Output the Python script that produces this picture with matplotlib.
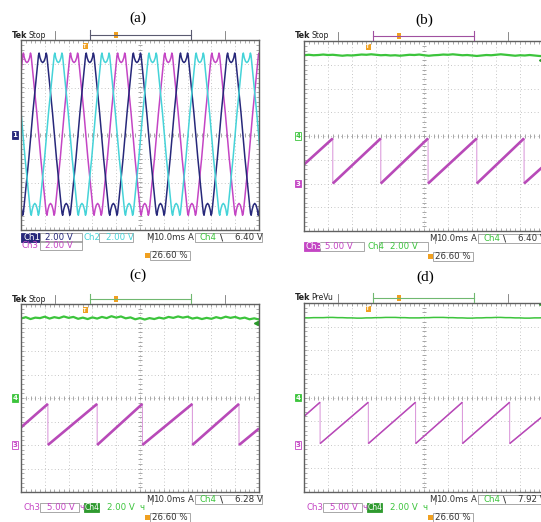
import numpy as np
import matplotlib.pyplot as plt
from matplotlib.lines import Line2D
from matplotlib.patches import Rectangle
from matplotlib.transforms import blended_transform_factory

# screen is 10 x 8 divisions, values below are in divisions
W, H = 541, 522

# (a) three phase voltages, one cycle (deg, div)
cyc_deg = [0, 15, 30, 42, 52, 58, 63, 70, 80, 90, 100, 110, 117, 122, 128, 138, 150, 165,
           180, 195, 210, 222, 232, 238, 243, 250, 260, 270, 280, 290, 297, 302, 308, 318,
           330, 345]
cyc_val = [0.0, 0.95, 1.8, 2.45, 3.0, 3.35, 3.45, 3.25, 3.1, 3.05, 3.1, 3.25, 3.45, 3.35,
           3.0, 2.45, 1.8, 0.95,
           0.0, -0.95, -1.8, -2.45, -3.0, -3.3, -3.38, -3.15, -2.95, -2.88, -2.95, -3.15,
           -3.38, -3.3, -3.0, -2.45, -1.8, -0.95]
period_a = 1.98
peak_ch3 = 0.25   # magenta
peak_ch1 = 0.91   # navy
peak_ch2 = 1.57   # cyan

# (b)(c)(d) sawtooth corners
saw_b_t = [0.0, 1.2, 1.2, 3.2, 3.2, 5.17, 5.17, 7.2, 7.2, 9.17, 9.17, 10.0]
saw_b_v = [-1.2, -0.1, -2.0, -0.1, -2.0, -0.1, -2.0, -0.1, -2.0, -0.1, -2.0, -1.25]
saw_c_t = [0.0, 1.13, 1.13, 3.2, 3.2, 5.1, 5.1, 7.2, 7.2, 9.16, 9.16, 10.0]
saw_c_v = [-1.25, -0.25, -2.0, -0.25, -2.0, -0.25, -2.0, -0.25, -2.0, -0.25, -2.0, -1.3]
saw_d_t = [0.0, 0.67, 0.67, 2.68, 2.68, 4.65, 4.65, 6.6, 6.6, 8.57, 8.57, 10.0]
saw_d_v = [-0.8, -0.2, -1.95, -0.2, -1.95, -0.2, -1.95, -0.2, -1.95, -0.2, -1.95, -0.75]

# Ch4 dc level, sampled every 0.2 div
dc_t = np.arange(0, 10.01, 0.2)
dc_b = [3.40, 3.42, 3.40, 3.41, 3.43, 3.41, 3.42, 3.40, 3.38, 3.40, 3.39, 3.41, 3.43,
        3.42, 3.44, 3.42, 3.40, 3.41, 3.39, 3.40, 3.38, 3.40, 3.42, 3.41, 3.43, 3.40,
        3.38, 3.40, 3.41, 3.43, 3.42, 3.44, 3.42, 3.40, 3.41, 3.39, 3.37, 3.39, 3.41,
        3.40, 3.42, 3.44, 3.42, 3.40, 3.38, 3.40, 3.39, 3.41, 3.39, 3.37, 3.36]
dc_c = [3.38, 3.44, 3.36, 3.42, 3.40, 3.46, 3.38, 3.44, 3.40, 3.47, 3.41, 3.45, 3.37,
        3.42, 3.36, 3.43, 3.38, 3.45, 3.40, 3.48, 3.42, 3.47, 3.39, 3.43, 3.35, 3.40,
        3.34, 3.40, 3.36, 3.42, 3.38, 3.45, 3.41, 3.47, 3.42, 3.46, 3.38, 3.42, 3.36,
        3.41, 3.37, 3.44, 3.39, 3.46, 3.41, 3.45, 3.38, 3.42, 3.35, 3.39, 3.34]
dc_d = [3.37, 3.37, 3.38, 3.38, 3.38, 3.39, 3.39, 3.38, 3.38, 3.37, 3.37, 3.36, 3.36,
        3.37, 3.37, 3.38, 3.38, 3.39, 3.39, 3.39, 3.38, 3.38, 3.37, 3.37, 3.37, 3.38,
        3.38, 3.39, 3.39, 3.39, 3.38, 3.38, 3.37, 3.37, 3.36, 3.36, 3.37, 3.37, 3.38,
        3.38, 3.39, 3.39, 3.38, 3.38, 3.37, 3.37, 3.36, 3.36, 3.37, 3.37, 3.38]

titles = ["(a)", "(b)", "(c)", "(d)"]
states = ["Stop", "Stop", "Stop", "PreVu"]
ch4_trig = ["6.40 V", "6.40 V", "6.28 V", "7.92 V"]

NAVY = "#27287a"
MAG = "#c445c4"
CYAN = "#45d3d8"
GREEN = "#3cc43c"
ORANGE = "#f0a020"
GRID = "#b4b4b4"
TXT = "#333333"

# frame boxes in pixels (left, top, right, bottom)
frames = [(21, 40, 259, 230), (304, 41, 544, 231), (21, 304, 259, 492), (304, 303, 544, 492)]
title_xy = [(138, 18), (424, 20), (138, 275), (425, 277)]

fig = plt.figure(figsize=(W / 100, H / 100), dpi=100)
fs = 6.2


def fx(x):
    return x / W


def fy(y):
    return 1 - y / H


def ftext(x, y, s, **kw):
    kw.setdefault("fontsize", fs)
    kw.setdefault("color", TXT)
    kw.setdefault("va", "center")
    kw.setdefault("ha", "left")
    fig.text(fx(x), fy(y), s, **kw)


def fline(xs, ys, **kw):
    fig.add_artist(Line2D([fx(v) for v in xs], [fy(v) for v in ys], **kw))


def fbox(x0, y0, x1, y1, fc="none", ec="#9a9a9a", lw=0.6):
    fig.add_artist(Rectangle((fx(x0), fy(y1)), fx(x1) - fx(x0), fy(y0) - fy(y1),
                             fc=fc, ec=ec, lw=lw, transform=fig.transFigure))


def make_screen(l, t, r, b):
    ax = fig.add_axes([fx(l), fy(b), fx(r) - fx(l), fy(t) - fy(b)])
    ax.set_xlim(0, 10)
    ax.set_ylim(-4, 4)
    for i in range(1, 10):
        ax.axvline(i, color=GRID, lw=0.6, ls=(0, (1, 3)), zorder=0)
    for j in range(-3, 4):
        ax.axhline(j, color=GRID, lw=0.6, ls=(0, (1, 3)), zorder=0)
    ax.plot(np.arange(0, 10.01, 0.2), np.zeros(51), ls="none", marker="|",
            ms=3, color="#999999", mew=0.6, zorder=0)
    ax.plot(np.full(41, 5.0), np.arange(-4, 4.01, 0.2), ls="none", marker="_",
            ms=3, color="#999999", mew=0.6, zorder=0)
    ax.set_xticks([])
    ax.set_yticks([])
    ax.set_xticks(np.arange(0, 10.01, 0.2), minor=True)
    ax.set_yticks(np.arange(-4, 4.01, 0.2), minor=True)
    ax.tick_params(which="minor", direction="in", length=2, width=0.5,
                   color="#888888", top=True, right=True)
    ax.tick_params(which="minor", labelbottom=False, labelleft=False)
    for s in ax.spines.values():
        s.set_color("#606060")
        s.set_linewidth(1.0)
    return ax


def ch_marker(ax, y, label, color, filled):
    tr = blended_transform_factory(ax.transAxes, ax.transData)
    ax.text(-0.015, y, label, transform=tr, ha="right", va="center",
            fontsize=5, color="white" if filled else color, fontweight="bold",
            clip_on=False,
            bbox=dict(boxstyle="square,pad=0.12", fc=color if filled else "white",
                      ec=color, lw=0.6))


def header(k, l, t, bracket_col):
    ftext(l - 9, t - 5, "Tek", fontweight="bold", fontsize=5.8, color="#222222")
    ftext(l + 7.5, t - 5, states[k], fontsize=5.5, color="#222222")
    fline([l + 34, l + 34], [t - 9, t - 1], color="#777777", lw=0.6)
    fline([l + 204, l + 204], [t - 9, t - 1], color="#777777", lw=0.6)
    fline([l + 69, l + 170], [t - 5, t - 5], color=bracket_col, lw=0.8)
    fline([l + 69, l + 69], [t - 10, t - 1], color=bracket_col, lw=0.8)
    fline([l + 170, l + 170], [t - 10, t - 1], color=bracket_col, lw=0.8)
    fig.add_artist(Rectangle((fx(l + 93), fy(t - 2)), fx(4), fy(0) - fy(6), fc=ORANGE,
                             ec="none", transform=fig.transFigure))
    fig.add_artist(Rectangle((fx(l + 61.5), fy(t + 9)), fx(5), fy(0) - fy(6), fc=ORANGE,
                             ec="none", transform=fig.transFigure))
    ftext(l + 64, t + 6, "T", fontsize=3.5, color="white", ha="center", fontweight="bold")


def row1(l, b, trig):
    y = b + 7.7
    ftext(l + 125, y, "M")
    fline([l + 131, l + 131], [y - 4, y + 4], color="#9a9a9a", lw=0.6)
    ftext(l + 132, y, "10.0ms")
    ftext(l + 167, y, "A")
    fbox(l + 174, y - 4.5, l + 241, y + 4.5)
    ftext(l + 179, y, "Ch4", color=GREEN)
    ftext(l + 199, y, "\\", fontweight="bold")
    ftext(l + 214, y, trig)


def percent(l, b):
    y = b + 25.5
    fig.add_artist(Rectangle((fx(l + 124), fy(y + 2.5)), fx(5), fy(0) - fy(5), fc=ORANGE,
                             ec="none", transform=fig.transFigure))
    fbox(l + 129, y - 4.5, l + 169, y + 4.5)
    ftext(l + 131, y, "26.60 %")


# ---------- (a)
l, t, r, b = frames[0]
ax = make_screen(l, t, r, b)
for pk, col in [(peak_ch3, MAG), (peak_ch1, NAVY), (peak_ch2, CYAN)]:
    xs, ys = [], []
    start = pk - period_a / 4
    for k in range(-1, 7):
        for d, v in zip(cyc_deg, cyc_val):
            xs.append(start + (k + d / 360) * period_a)
            ys.append(v)
    ax.plot(xs, ys, color=col, lw=1.1)
ch_marker(ax, 0, "1", NAVY, True)
header(0, l, t, "#5a5a70")
row1(l, b, ch4_trig[0])
y = b + 7.7
fbox(l, y - 4.5, l + 19, y + 4.5, fc=NAVY, ec=NAVY)
ftext(l + 2, y, "Ch1", color="white")
fbox(l + 19, y - 4.5, l + 61, y + 4.5)
ftext(l + 24, y, "2.00 V", color=NAVY)
ftext(l + 63, y, "Ch2", color=CYAN)
fbox(l + 78, y - 4.5, l + 112, y + 4.5)
ftext(l + 85, y, "2.00 V", color=CYAN)
y = b + 15.7
ftext(l + 1, y, "Ch3", color=MAG)
fbox(l + 19, y - 4.5, l + 61, y + 4.5)
ftext(l + 24, y, "2.00 V", color=MAG)
percent(l, b)

# ---------- (b) (c) (d)
saws = [(saw_b_t, saw_b_v), (saw_c_t, saw_c_v), (saw_d_t, saw_d_v)]
dcs = [dc_b, dc_c, dc_d]
for k in (1, 2, 3):
    l, t, r, b = frames[k]
    ax = make_screen(l, t, r, b)
    st, sv = saws[k - 1]
    thick = 1.9 if k < 3 else 1.1
    ax.plot(st, sv, color="#d890d8", lw=0.7)
    for i in range(0, len(st), 2):
        ax.plot(st[i:i + 2], sv[i:i + 2], color="#b84ab8", lw=thick,
                solid_capstyle="butt")
    ax.plot(dc_t, dcs[k - 1], color=GREEN, lw=1.6 if k < 3 else 1.1)
    ax.plot([9.88], [3.2 if k < 3 else 3.95], marker="<", ms=3, color="#2a9a2a",
            clip_on=False)
    ch_marker(ax, 0, "4", GREEN, k > 1)
    ch_marker(ax, -2, "3", MAG, k == 1)
    header(k, l, t, "#a050a0" if k == 1 else "#70b870")
    row1(l, b, ch4_trig[k])
    y = b + 15.7
    if k == 1:
        fbox(l, y - 4.5, l + 16, y + 4.5, fc=MAG, ec=MAG)
        ftext(l + 1, y, "Ch3", color="white")
        fbox(l + 16, y - 4.5, l + 60, y + 4.5)
        ftext(l + 21, y, "5.00 V", color=MAG)
        ftext(l + 63, y, "Ch4", color=GREEN)
        fbox(l + 75, y - 4.5, l + 124, y + 4.5)
        ftext(l + 86, y, "2.00 V", color=GREEN)
    else:
        ftext(l + 2, y, "Ch3", color=MAG)
        fbox(l + 19, y - 4.5, l + 58, y + 4.5)
        ftext(l + 26, y, "5.00 V", color=MAG)
        ftext(l + 58, y, "\u0447", color=MAG)
        fbox(l + 63, y - 4.5, l + 78, y + 4.5, fc="#2f9a2f", ec="#2f9a2f")
        ftext(l + 63.5, y, "Ch4", color="white", fontsize=5.5)
        ftext(l + 86, y, "2.00 V", color=GREEN)
        ftext(l + 118, y, "\u0447", color=GREEN)
    percent(l, b)

for (x, y), s in zip(title_xy, titles):
    ftext(x, y, s, ha="center", fontsize=11, color="black", family="Liberation Serif")

fig.savefig("out.png", dpi=100)
